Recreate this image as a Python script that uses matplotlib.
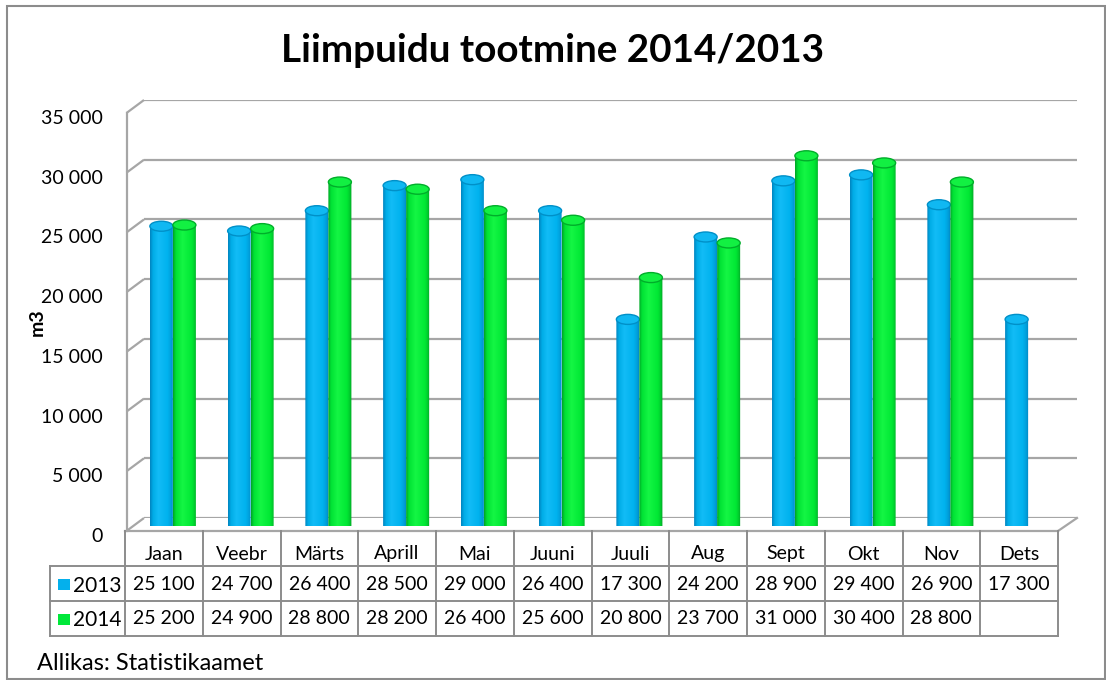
import numpy as np
import matplotlib
matplotlib.use('Agg')
import matplotlib.pyplot as plt
from matplotlib.patches import Ellipse, PathPatch, Rectangle
from matplotlib.path import Path
from matplotlib.colors import LinearSegmentedColormap
from matplotlib.transforms import ScaledTranslation

# ---------------- data ----------------
months = ['Jaan', 'Veebr', 'Märts', 'Aprill', 'Mai', 'Juuni', 'Juuli', 'Aug',
          'Sept', 'Okt', 'Nov', 'Dets']
v2013 = [25100, 24700, 26400, 28500, 29000, 26400, 17300, 24200, 28900, 29400, 26900, 17300]
v2014 = [25200, 24900, 28800, 28200, 26400, 25600, 20800, 23700, 31000, 30400, 28800, None]
series_names = ['2013', '2014']
yticks = [0, 5000, 10000, 15000, 20000, 25000, 30000, 35000]
title = 'Liimpuidu tootmine 2014/2013'
ylabel = 'm3'
source = 'Allikas: Statistikaamet'

# ---------------- setup ----------------
plt.rcParams['font.family'] = ['Lato', 'DejaVu Sans']
W, H = 1106, 680
fig = plt.figure(figsize=(W / 100, H / 100), dpi=100)
fig.patch.set_facecolor('white')

GRID = '#a6a6a6'
TLINE = '#8c8c8c'
FS = 14


def rect(x0, ytop, x1, ybot):
    return [x0 / W, 1 - ybot / H, (x1 - x0) / W, (ybot - ytop) / H]


def fmt(v):
    return '' if v is None else f'{int(v):,}'.replace(',', ' ')


# front plane (y labels), back wall (grid), bars (middle depth)
FX0, FX1, FYT, FYB = 125, 1058, 113, 531
BDX, BDY = 19, -13
MDX, MDY = 9, -5

ov = fig.add_axes([0, 0, 1, 1], zorder=1)
ov.set_xlim(0, W)
ov.set_ylim(H, 0)
ov.axis('off')

ba = fig.add_axes(rect(FX0 + BDX, FYT + BDY, FX1 + BDX, FYB + BDY), zorder=0)
fa = fig.add_axes(rect(FX0, FYT, FX1, FYB), zorder=2)
bx = fig.add_axes(rect(FX0 + MDX, FYT + MDY, FX1 + MDX, FYB + MDY), zorder=3)

n = len(months)
for a in (ba, fa, bx):
    a.set_xlim(-0.5, n - 0.5)
    a.set_ylim(0, 35000)
    a.patch.set_visible(False)
    for s in a.spines.values():
        s.set_visible(False)
    a.set_xticks([])

# back wall grid
ba.set_yticks(yticks)
ba.set_yticklabels([])
ba.tick_params(length=0)
ba.yaxis.grid(True, color=GRID, lw=1.6)

# front y labels
fa.set_yticks(yticks)
fa.set_yticklabels([fmt(v) for v in yticks], fontsize=FS)
fa.tick_params(axis='y', length=0, pad=16)
for lbl in fa.get_yticklabels():
    lbl.set_transform(lbl.get_transform() + ScaledTranslation(0, -4 / 100, fig.dpi_scale_trans))


def to_px(ax, x, y):
    dx, dy = ax.transData.transform((x, y))
    return dx, H - dy


# side wall diagonals + front vertical edge
for v in yticks:
    fx, fy = to_px(fa, -0.5, v)
    bxp, byp = to_px(ba, -0.5, v)
    ov.plot([fx + 1.5, bxp], [fy, byp], color=GRID, lw=1.6, solid_capstyle='butt')
fx0, fy0 = to_px(fa, -0.5, 0)
fx35, fy35 = to_px(fa, -0.5, 35000)
ov.plot([fx0 + 1.5, fx0 + 1.5], [fy0, fy35], color=GRID, lw=1.6)
# floor right diagonal
rfx, rfy = to_px(fa, n - 0.5, 0)
rbx, rby = to_px(ba, n - 0.5, 0)
ov.plot([rfx, rbx], [rfy, rby], color=GRID, lw=1.6)

# ---------------- cylinders ----------------
blue_cmap = LinearSegmentedColormap.from_list(
    'b', [(0, '#0084c0'), (0.12, '#00ace6'), (0.35, '#12bcf6'), (0.75, '#00b2ee'),
          (0.92, '#009ad6'), (1, '#0080bc')])
green_cmap = LinearSegmentedColormap.from_list(
    'g', [(0, '#00a426'), (0.12, '#00e234'), (0.4, '#14f644'), (0.8, '#00e834'),
          (0.93, '#00c62c'), (1, '#009c22')])
styles = [(blue_cmap, '#10b8f2', '#0090c8'), (green_cmap, '#12f042', '#00ae2a')]

bw = 0.296
eh = 10 * 35000 / (FYB - FYT)
grad = np.linspace(0, 1, 64).reshape(1, -1)
for j, vals in enumerate([v2013, v2014]):
    cmap, topc, edgec = styles[j]
    off = (j - 0.5) * bw
    for i, v in enumerate(vals):
        if v is None:
            continue
        xc = i + off
        x0, x1 = xc - bw / 2, xc + bw / 2
        t = np.linspace(np.pi, 2 * np.pi, 30)
        arc = np.column_stack([xc + bw / 2 * np.cos(t), eh / 2 * np.sin(t)])
        verts = np.vstack([[x0, v], [x0, 0], arc, [x1, 0], [x1, v], [x0, v]])
        codes = [Path.MOVETO] + [Path.LINETO] * (len(verts) - 2) + [Path.CLOSEPOLY]
        patch = PathPatch(Path(verts, codes), facecolor='none', edgecolor='none')
        bx.add_patch(patch)
        im = bx.imshow(grad, cmap=cmap, extent=[x0, x1, -eh / 2, v], aspect='auto',
                       origin='lower', interpolation='bilinear', zorder=2 + j)
        im.set_clip_path(patch)
        bx.add_patch(Ellipse((xc, v), bw, eh, facecolor=topc, edgecolor=edgec,
                             lw=1.0, zorder=2.5 + j))
bx.set_xlim(-0.5, n - 0.5)
bx.set_ylim(0, 35000)
bx.axis('off')

# ---------------- data table ----------------
rows_y = [531, 566, 601, 636]
colw = (FX1 - FX0) / n
col_x = [FX0 + k * colw for k in range(n + 1)]
LX = 50
tl = dict(color=TLINE, lw=1.4, solid_capstyle='projecting')
ov.plot([FX0, FX1], [rows_y[0], rows_y[0]], color=GRID, lw=1.6)
for yy in rows_y[1:]:
    ov.plot([LX, FX1], [yy, yy], **tl)
ov.plot([LX, LX], [rows_y[1], rows_y[3]], **tl)
for xx in col_x:
    ov.plot([xx, xx], [rows_y[0], rows_y[3]], **tl)

for k, m in enumerate(months):
    cx = (col_x[k] + col_x[k + 1]) / 2
    ov.text(cx, 554, m, ha='center', va='center', fontsize=FS)
    ov.text(cx, 585, fmt(v2013[k]), ha='center', va='center', fontsize=FS)
    ov.text(cx, 619, fmt(v2014[k]), ha='center', va='center', fontsize=FS)

key_cols = ['#04b0ec', '#00e83a']
for r, (name, kc) in enumerate(zip(series_names, key_cols)):
    yc = (rows_y[r + 1] + rows_y[r + 2]) / 2 + 1
    ov.add_patch(Rectangle((58, yc - 6), 12, 11, facecolor=kc, edgecolor='none'))
    ov.text(73, yc + 1, name, ha='left', va='center', fontsize=FS + 1)

# ---------------- texts ----------------
ov.text(553, 51, title, ha='center', va='center', fontsize=27.8, fontweight='bold')
ov.text(37, 322, ylabel, ha='center', va='center', rotation=90, fontsize=14, fontweight='bold')
ov.text(37, 663, source, ha='left', va='center', fontsize=17)

# outer border
ov.add_patch(Rectangle((7, 6), 1098, 673, fill=False, edgecolor='#8c8c8c', lw=1.5))

fig.savefig('out.png', dpi=100)
